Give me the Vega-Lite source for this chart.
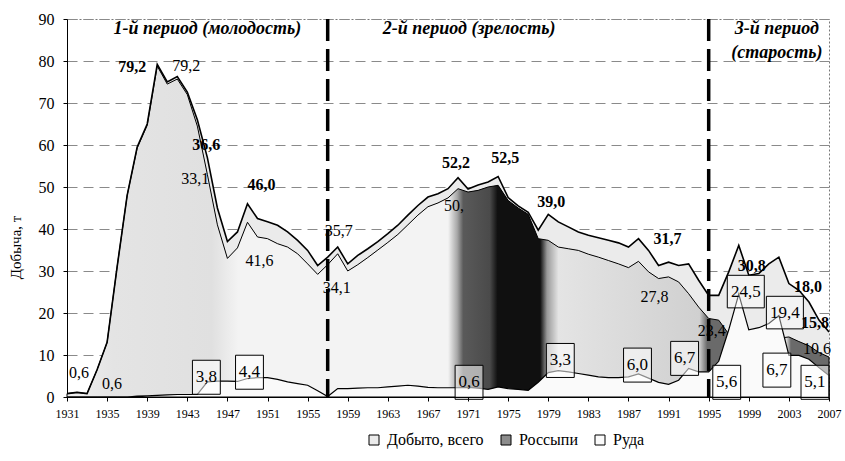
{
  "$schema": "https://vega.github.io/schema/vega-lite/v6.json",
  "width": 762,
  "height": 378,
  "autosize": {"type": "none"},
  "padding": {"left": 67, "top": 19, "right": 16, "bottom": 64},
  "background": "white",
  "config": {
    "view": {"stroke": "#777", "strokeDash": [2, 2], "strokeWidth": 1},
    "font": "Times New Roman, Liberation Serif, DejaVu Serif, serif",
    "axis": {"labelFont": "Times New Roman, Liberation Serif, DejaVu Serif, serif", "titleFont": "Times New Roman, Liberation Serif, DejaVu Serif, serif", "labelColor": "black", "titleColor": "black"},
    "legend": {"labelFont": "Times New Roman, Liberation Serif, DejaVu Serif, serif"},
    "text": {"font": "Times New Roman, Liberation Serif, DejaVu Serif, serif"}
  },
  "datasets": {
    "production": [
      {"year": 1931, "total": 0.8, "placers": 0.8, "ore": 0},
      {"year": 1932, "total": 1.1, "placers": 1.1, "ore": 0},
      {"year": 1933, "total": 0.8, "placers": 0.8, "ore": 0},
      {"year": 1934, "total": 6.5, "placers": 6.5, "ore": 0},
      {"year": 1935, "total": 13, "placers": 13, "ore": 0},
      {"year": 1936, "total": 31, "placers": 31, "ore": 0},
      {"year": 1937, "total": 48, "placers": 48, "ore": 0},
      {"year": 1938, "total": 59.5, "placers": 59.3, "ore": 0.2},
      {"year": 1939, "total": 65, "placers": 64.7, "ore": 0.3},
      {"year": 1940, "total": 79.2, "placers": 78.8, "ore": 0.4},
      {"year": 1941, "total": 75, "placers": 74.5, "ore": 0.5},
      {"year": 1942, "total": 76.3, "placers": 75.7, "ore": 0.6},
      {"year": 1943, "total": 72.6, "placers": 72, "ore": 0.6},
      {"year": 1944, "total": 66, "placers": 64.5, "ore": 0.6},
      {"year": 1945, "total": 57, "placers": 53, "ore": 3.6},
      {"year": 1946, "total": 45, "placers": 41, "ore": 3.8},
      {"year": 1947, "total": 37, "placers": 33, "ore": 3.8},
      {"year": 1948, "total": 39.3, "placers": 35.5, "ore": 3.7},
      {"year": 1949, "total": 46.0, "placers": 41.6, "ore": 4.4},
      {"year": 1950, "total": 42.5, "placers": 38.1, "ore": 4.6},
      {"year": 1951, "total": 41.7, "placers": 37.7, "ore": 4.6},
      {"year": 1952, "total": 40.9, "placers": 36.5, "ore": 4.2},
      {"year": 1953, "total": 39.3, "placers": 35.7, "ore": 3.6},
      {"year": 1954, "total": 37.3, "placers": 34.1, "ore": 3.2},
      {"year": 1955, "total": 34.9, "placers": 31.7, "ore": 2.8},
      {"year": 1956, "total": 31.3, "placers": 29.2, "ore": 1.5},
      {"year": 1957, "total": 33.3, "placers": 31.5, "ore": 0.1},
      {"year": 1958, "total": 35.7, "placers": 34.1, "ore": 2.0},
      {"year": 1959, "total": 31.7, "placers": 30.0, "ore": 2.0},
      {"year": 1960, "total": 33.7, "placers": 31.5, "ore": 2.1},
      {"year": 1961, "total": 35.3, "placers": 33.2, "ore": 2.2},
      {"year": 1962, "total": 37.0, "placers": 35.0, "ore": 2.2},
      {"year": 1963, "total": 38.9, "placers": 36.8, "ore": 2.4},
      {"year": 1964, "total": 40.9, "placers": 38.7, "ore": 2.6},
      {"year": 1965, "total": 43.3, "placers": 41.0, "ore": 2.8},
      {"year": 1966, "total": 45.6, "placers": 43.3, "ore": 2.6},
      {"year": 1967, "total": 47.6, "placers": 45.3, "ore": 2.3},
      {"year": 1968, "total": 48.4, "placers": 46.2, "ore": 2.2},
      {"year": 1969, "total": 49.6, "placers": 47.4, "ore": 2.2},
      {"year": 1970, "total": 52.2, "placers": 49.6, "ore": 2.2},
      {"year": 1971, "total": 49.5, "placers": 48.8, "ore": 2.3},
      {"year": 1972, "total": 50.5, "placers": 49.2, "ore": 2.1},
      {"year": 1973, "total": 51.2, "placers": 50.0, "ore": 1.8},
      {"year": 1974, "total": 52.5, "placers": 50.4, "ore": 2.4},
      {"year": 1975, "total": 47.5, "placers": 46.8, "ore": 2.0},
      {"year": 1976, "total": 45.5, "placers": 45.0, "ore": 1.8},
      {"year": 1977, "total": 44.0, "placers": 43.5, "ore": 1.6},
      {"year": 1978, "total": 39.7, "placers": 37.7, "ore": 3.5},
      {"year": 1979, "total": 43.5, "placers": 37.3, "ore": 5.8},
      {"year": 1980, "total": 41.7, "placers": 35.7, "ore": 6.3},
      {"year": 1981, "total": 40.5, "placers": 35.3, "ore": 6.0},
      {"year": 1982, "total": 39.3, "placers": 34.9, "ore": 5.6},
      {"year": 1983, "total": 38.5, "placers": 34.0, "ore": 5.2},
      {"year": 1984, "total": 37.9, "placers": 33.3, "ore": 4.8},
      {"year": 1985, "total": 37.3, "placers": 32.5, "ore": 4.6},
      {"year": 1986, "total": 36.7, "placers": 31.7, "ore": 4.6},
      {"year": 1987, "total": 35.7, "placers": 30.8, "ore": 4.8},
      {"year": 1988, "total": 37.7, "placers": 32.3, "ore": 5.5},
      {"year": 1989, "total": 34.9, "placers": 29.8, "ore": 4.5},
      {"year": 1990, "total": 31.3, "placers": 28.2, "ore": 3.5},
      {"year": 1991, "total": 32.1, "placers": 28.6, "ore": 3.0},
      {"year": 1992, "total": 31.3, "placers": 27.4, "ore": 4.0},
      {"year": 1993, "total": 31.7, "placers": 24.6, "ore": 6.8},
      {"year": 1994, "total": 27.8, "placers": 21.4, "ore": 6.0},
      {"year": 1995, "total": 24.2, "placers": 18.7, "ore": 6.0},
      {"year": 1996, "total": 24.2, "placers": 18.3, "ore": 8.5},
      {"year": 1997, "total": 29.8, "placers": 15.0, "ore": 16.0},
      {"year": 1998, "total": 36.1, "placers": 12.0, "ore": 24.5},
      {"year": 1999, "total": 29.0, "placers": 12.0, "ore": 16.0},
      {"year": 2000, "total": 29.4, "placers": 12.0, "ore": 16.5},
      {"year": 2001, "total": 31.7, "placers": 13.0, "ore": 17.5},
      {"year": 2002, "total": 33.3, "placers": 14.0, "ore": 19.4},
      {"year": 2003, "total": 27.0, "placers": 14.3, "ore": 9.9},
      {"year": 2004, "total": 25.4, "placers": 13.2, "ore": 9.9},
      {"year": 2005, "total": 22.6, "placers": 12.2, "ore": 9.0},
      {"year": 2006, "total": 18.3, "placers": 10.6, "ore": 7.0},
      {"year": 2007, "total": 15.5, "placers": 9.5, "ore": 5.1}
    ],
    "boldLabels": [
      {"year": 1937.5, "value": 78.5, "text": "79,2"},
      {"year": 1944.9, "value": 59.9, "text": "36,6"},
      {"year": 1950.4, "value": 50.4, "text": "46,0"},
      {"year": 1969.8, "value": 55.8, "text": "52,2"},
      {"year": 1974.7, "value": 57.0, "text": "52,5"},
      {"year": 1979.3, "value": 46.4, "text": "39,0"},
      {"year": 1990.9, "value": 37.7, "text": "31,7"},
      {"year": 1999.3, "value": 31.3, "text": "30,8"},
      {"year": 2004.9, "value": 26.1, "text": "18,0"},
      {"year": 2005.6, "value": 17.7, "text": "15,8"}
    ],
    "plainLabels": [
      {"year": 1942.9, "value": 78.7, "text": "79,2"},
      {"year": 1943.8, "value": 51.8, "text": "33,1"},
      {"year": 1950.2, "value": 32.5, "text": "41,6"},
      {"year": 1958.1, "value": 39.6, "text": "35,7"},
      {"year": 1957.9, "value": 25.9, "text": "34,1"},
      {"year": 1969.6, "value": 45.4, "text": "50,"},
      {"year": 1989.6, "value": 23.7, "text": "27,8"},
      {"year": 1995.3, "value": 15.6, "text": "23,4"},
      {"year": 2005.8, "value": 11.4, "text": "10,6"},
      {"year": 1932.2, "value": 5.6, "text": "0,6"},
      {"year": 1935.5, "value": 3.2, "text": "0,6"}
    ],
    "boxedLabels": [
      {"year": 1944.9, "value": 4.7, "text": "3,8"},
      {"year": 1949.2, "value": 5.9, "text": "4,4"},
      {"year": 1971.1, "value": 3.5, "text": "0,6"},
      {"year": 1980.2, "value": 8.7, "text": "3,3"},
      {"year": 1987.9, "value": 7.6, "text": "6,0"},
      {"year": 1992.6, "value": 9.2, "text": "6,7"},
      {"year": 1996.8, "value": 3.5, "text": "5,6"},
      {"year": 2001.8, "value": 6.4, "text": "6,7"},
      {"year": 2005.6, "value": 3.5, "text": "5,1"}
    ],
    "boxedWideLabels": [
      {"year": 1998.7, "value": 25.1, "text": "24,5"},
      {"year": 2002.6, "value": 20.1, "text": "19,4"}
    ],
    "periods": [
      {"year": 1945.0, "value": 87.6, "text": "1-й период (молодость)"},
      {"year": 1971.1, "value": 87.6, "text": "2-й период (зрелость)"},
      {"year": 2001.8, "value": 87.6, "text": "3-й период"},
      {"year": 2001.8, "value": 81.8, "text": "(старость)"}
    ],
    "boundaries": [{"year": 1957}, {"year": 1995}]
  },
  "layer": [
    {
      "data": {"name": "production"},
      "mark": {"type": "area", "stroke": "black", "strokeWidth": 0},
      "encoding": {
        "x": {"field": "year", "type": "quantitative",
          "scale": {"domain": [1931, 2007], "nice": false, "zero": false},
          "axis": {
            "title": null,
            "values": [1931,1932,1933,1934,1935,1936,1937,1938,1939,1940,1941,1942,1943,1944,1945,1946,1947,1948,1949,1950,1951,1952,1953,1954,1955,1956,1957,1958,1959,1960,1961,1962,1963,1964,1965,1966,1967,1968,1969,1970,1971,1972,1973,1974,1975,1976,1977,1978,1979,1980,1981,1982,1983,1984,1985,1986,1987,1988,1989,1990,1991,1992,1993,1994,1995,1996,1997,1998,1999,2000,2001,2002,2003,2004,2005,2006,2007],
            "labelExpr": "(datum.value - 1931) % 4 === 0 ? '' + datum.value : ''",
            "labelFontSize": 12,
            "labelPadding": 7,
            "labelFlush": false,
            "labelOverlap": false,
            "tickSize": 4,
            "tickColor": "black",
            "domainColor": "black",
            "grid": false,
            "zindex": 1
          }
        },
        "y": {"field": "total", "type": "quantitative",
          "scale": {"domain": [0, 90], "nice": false},
          "axis": {
            "title": "Добыча, т",
            "titleFontSize": 15,
            "titleFontWeight": "normal",
            "titleX": -44,
            "titleY": 228,
            "titleAlign": "center",
            "titleAngle": -90,
            "values": [0,10,20,30,40,50,60,70,80,90],
            "labelFontSize": 16,
            "labelPadding": 9,
            "tickSize": 4,
            "tickColor": "black",
            "domainColor": "black",
            "grid": true,
            "gridColor": "#8a8a8a",
            "gridDash": [10, 6],
            "gridWidth": 1,
            "zindex": 0
          }
        },
        "color": {"datum": "Добыто, всего", "type": "nominal",
          "scale": {"domain": ["Добыто, всего", "Россыпи", "Руда"], "range": ["#ebebeb", "#8c8c8c", "#fafafa"]},
          "legend": {
            "title": null,
            "orient": "none",
            "direction": "horizontal",
            "legendX": 299,
            "legendY": 413,
            "symbolType": "square",
            "symbolSize": 100,
            "symbolStrokeColor": "black",
            "symbolStrokeWidth": 1,
            "labelFontSize": 16,
            "labelOffset": 5,
            "columnPadding": 14
          }
        }
      }
    },
    {
      "data": {"name": "production"},
      "mark": {"type": "area"},
      "encoding": {
        "x": {"field": "year", "type": "quantitative"},
        "y": {"field": "placers", "type": "quantitative"},
        "color": {"datum": "Россыпи", "type": "nominal"}
      }
    },
    {
      "data": {"name": "production"},
      "mark": {
        "type": "area",
        "stroke": "black",
        "strokeWidth": 1,
        "fill": {
          "gradient": "linear", "x1": 0, "y1": 0, "x2": 1, "y2": 0,
          "stops": [
            {"offset": 0, "color": "#f0f0f0"},
            {"offset": 0.06, "color": "#e4e4e4"},
            {"offset": 0.19, "color": "#e0e0e0"},
            {"offset": 0.225, "color": "#f3f3f3"},
            {"offset": 0.5, "color": "#f3f3f3"},
            {"offset": 0.512, "color": "#a8a8a8"},
            {"offset": 0.52, "color": "#5a5a5a"},
            {"offset": 0.555, "color": "#4a4a4a"},
            {"offset": 0.565, "color": "#101010"},
            {"offset": 0.621, "color": "#101010"},
            {"offset": 0.63, "color": "#9a9a9a"},
            {"offset": 0.645, "color": "#e4e4e4"},
            {"offset": 0.83, "color": "#d0d0d0"},
            {"offset": 0.84, "color": "#6a6a6a"},
            {"offset": 0.868, "color": "#6a6a6a"},
            {"offset": 0.88, "color": "#dddddd"},
            {"offset": 0.944, "color": "#dddddd"},
            {"offset": 0.95, "color": "#6a6a6a"},
            {"offset": 1, "color": "#6a6a6a"}
          ]
        }
      },
      "encoding": {
        "x": {"field": "year", "type": "quantitative"},
        "y": {"field": "placers", "type": "quantitative"}
      }
    },
    {
      "data": {"name": "production"},
      "mark": {"type": "area", "stroke": "black", "strokeWidth": 1.2},
      "encoding": {
        "x": {"field": "year", "type": "quantitative"},
        "y": {"field": "ore", "type": "quantitative"},
        "color": {"datum": "Руда", "type": "nominal"}
      }
    },
    {
      "data": {"name": "production"},
      "mark": {"type": "line", "color": "black", "strokeWidth": 1.6},
      "encoding": {
        "x": {"field": "year", "type": "quantitative"},
        "y": {"field": "total", "type": "quantitative"}
      }
    },
    {
      "data": {"name": "boundaries"},
      "mark": {"type": "rule", "color": "black", "strokeWidth": 3.5, "strokeDash": [22, 8]},
      "encoding": {
        "x": {"field": "year", "type": "quantitative"}
      }
    },
    {
      "data": {"name": "boxedLabels"},
      "mark": {"type": "point", "shape": "M-0.82,-1H0.82V1H-0.82Z", "size": 1156, "filled": false, "fill": "white", "fillOpacity": 0.55, "stroke": "black", "strokeWidth": 1, "opacity": 1},
      "encoding": {
        "x": {"field": "year", "type": "quantitative"},
        "y": {"field": "value", "type": "quantitative"}
      }
    },
    {
      "data": {"name": "boxedWideLabels"},
      "mark": {"type": "point", "shape": "M-1,-0.88H1V0.88H-1Z", "size": 1369, "filled": false, "fill": "white", "fillOpacity": 0.4, "stroke": "black", "strokeWidth": 1, "opacity": 1},
      "encoding": {
        "x": {"field": "year", "type": "quantitative"},
        "y": {"field": "value", "type": "quantitative"}
      }
    },
    {
      "data": {"name": "boxedLabels"},
      "mark": {"type": "text", "fontSize": 17, "color": "black", "baseline": "middle", "align": "center"},
      "encoding": {
        "x": {"field": "year", "type": "quantitative"},
        "y": {"field": "value", "type": "quantitative"},
        "text": {"field": "text"}
      }
    },
    {
      "data": {"name": "boxedWideLabels"},
      "mark": {"type": "text", "fontSize": 17, "color": "black", "baseline": "middle", "align": "center"},
      "encoding": {
        "x": {"field": "year", "type": "quantitative"},
        "y": {"field": "value", "type": "quantitative"},
        "text": {"field": "text"}
      }
    },
    {
      "data": {"name": "plainLabels"},
      "mark": {"type": "text", "fontSize": 16, "color": "black", "baseline": "middle", "align": "center"},
      "encoding": {
        "x": {"field": "year", "type": "quantitative"},
        "y": {"field": "value", "type": "quantitative"},
        "text": {"field": "text"}
      }
    },
    {
      "data": {"name": "boldLabels"},
      "mark": {"type": "text", "fontSize": 16, "fontWeight": "bold", "color": "black", "baseline": "middle", "align": "center"},
      "encoding": {
        "x": {"field": "year", "type": "quantitative"},
        "y": {"field": "value", "type": "quantitative"},
        "text": {"field": "text"}
      }
    },
    {
      "data": {"name": "periods"},
      "mark": {"type": "text", "fontSize": 18, "fontWeight": "bold", "fontStyle": "italic", "color": "black", "baseline": "middle", "align": "center"},
      "encoding": {
        "x": {"field": "year", "type": "quantitative"},
        "y": {"field": "value", "type": "quantitative"},
        "text": {"field": "text"}
      }
    }
  ]
}
